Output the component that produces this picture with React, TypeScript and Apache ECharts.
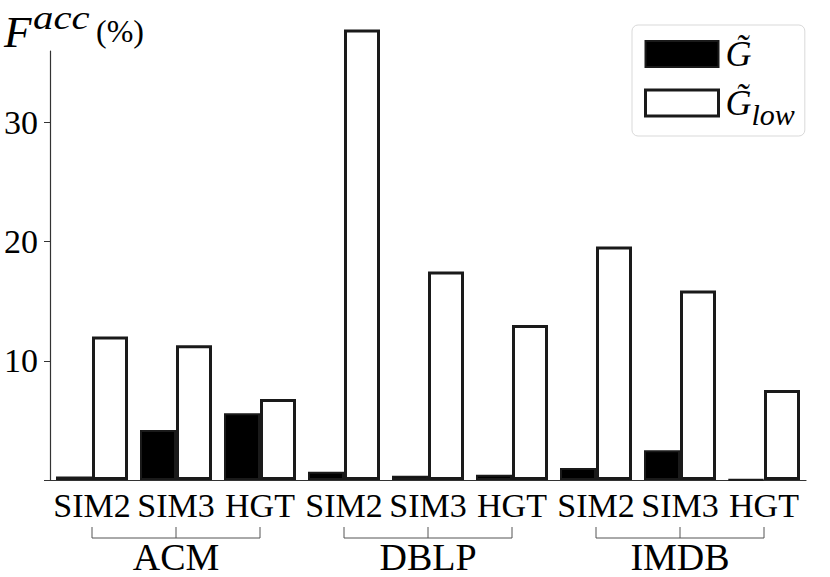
import React, { useEffect, useRef } from 'react';
import * as echarts from 'echarts';

const datasets = ['ACM', 'DBLP', 'IMDB'];
const methods = ['SIM2', 'SIM3', 'HGT'];
const seriesNames = ['G\u0303', 'G\u0303low'];
const gValues = [0.3, 4.2, 5.6, 0.7, 0.35, 0.45, 1.0, 2.5, 0.05];
const gLowValues = [12.05, 11.3, 6.8, 37.8, 17.5, 13.0, 19.6, 15.9, 7.55];
const yTicks = [10, 20, 30];
const yMax = 36;

const categories = datasets.flatMap((d) => methods.map((m) => `${d}-${m}`));
const SERIF = "'Liberation Serif', 'Times New Roman', serif";
const EDGE = '#1a1a1a';
const AXIS = '#333';

export default function App() {
  const ref = useRef<HTMLDivElement>(null);
  useEffect(() => {
    const chart = echarts.init(ref.current!, null, { renderer: 'svg' });
    const option: any = {
      animation: false,
      grid: { left: 50, right: 24, top: 51, bottom: 97, containLabel: false },
      xAxis: {
        type: 'category',
        data: categories,
        axisLine: { lineStyle: { color: AXIS, width: 1.2 } },
        axisTick: { alignWithLabel: true, length: 5, lineStyle: { color: AXIS } },
        axisLabel: {
          interval: 0,
          formatter: (v: string) => v.split('-')[1],
          fontFamily: SERIF,
          fontSize: 34,
          color: '#000',
          margin: 8,
        },
      },
      yAxis: {
        type: 'value',
        min: 0,
        max: yMax,
        splitLine: { show: false },
        axisLine: { show: true, lineStyle: { color: AXIS, width: 1.2 } },
        axisTick: { show: true, length: 6, customValues: [0, ...yTicks], lineStyle: { color: AXIS } },
        axisLabel: {
          customValues: yTicks,
          fontFamily: SERIF,
          fontSize: 34,
          color: '#000',
          margin: 12,
        },
      },
      legend: {
        orient: 'vertical',
        left: 632,
        top: 25,
        padding: [11, 10, 7, 12],
        itemWidth: 73,
        itemHeight: 26,
        itemGap: 13,
        backgroundColor: '#fff',
        borderColor: '#d9d9d9',
        borderWidth: 1,
        borderRadius: 6,
        icon: 'rect',
        data: [
          { name: seriesNames[0], itemStyle: { color: '#000', borderColor: EDGE, borderWidth: 2 } },
          { name: seriesNames[1], itemStyle: { color: '#fff', borderColor: EDGE, borderWidth: 3 } },
        ],
        formatter: (n: string) => (n === seriesNames[0] ? '{g|G\u0303}' : '{g|G\u0303}{s|low}'),
        textStyle: {
          lineHeight: 26,
          height: 26,
          padding: [0, 0, 0, 2],
          rich: {
            g: { fontFamily: SERIF, fontStyle: 'italic', fontSize: 36, lineHeight: 26, height: 26, color: '#000' },
            s: { fontFamily: SERIF, fontStyle: 'italic', fontSize: 30, lineHeight: 4, height: 4, verticalAlign: 'bottom', color: '#000' },
          },
        },
      },
      series: [
        {
          name: seriesNames[0],
          type: 'bar',
          data: gValues,
          barWidth: 36,
          barGap: '0%',
          itemStyle: { color: '#000', borderColor: EDGE, borderWidth: 2 },
        },
        {
          name: seriesNames[1],
          type: 'bar',
          data: gLowValues,
          barWidth: 36,
          clip: false,
          itemStyle: { color: '#fff', borderColor: EDGE, borderWidth: 3 },
        },
      ],
    };
    chart.setOption(option);

    const base = chart.convertToPixel({ yAxisIndex: 0 }, 0) as number;
    const yLine = base + 58;
    const yTop = base + 47;
    const yLabel = base + 77;
    const groups: any[] = [];
    datasets.forEach((d) => {
      const xs = methods.map((m) => chart.convertToPixel({ xAxisIndex: 0 }, `${d}-${m}`) as number);
      groups.push({
        type: 'polyline',
        shape: { points: [[xs[0], yTop], [xs[0], yLine], [xs[2], yLine], [xs[2], yTop]] },
        style: { stroke: '#555', fill: null, lineWidth: 1 },
      });
      groups.push({
        type: 'line',
        shape: { x1: xs[1], y1: yTop, x2: xs[1], y2: yLine },
        style: { stroke: '#555', lineWidth: 1 },
      });
      groups.push({
        type: 'text',
        x: xs[1],
        y: yLabel,
        style: { text: d, fontFamily: SERIF, fontSize: 38, fill: '#000', align: 'center', verticalAlign: 'middle' },
      });
    });
    const title = [
      { type: 'text', x: 4, y: 32, style: { text: 'F', fontFamily: SERIF, fontStyle: 'italic', fontSize: 45, fill: '#000', verticalAlign: 'middle' } },
      { type: 'text', x: 33, y: 1, scaleX: 1.2, style: { text: 'acc', fontFamily: SERIF, fontStyle: 'italic', fontSize: 34, fill: '#000', verticalAlign: 'top' } },
      { type: 'text', x: 96, y: 31, style: { text: '(%)', fontFamily: SERIF, fontSize: 32, fill: '#000', verticalAlign: 'middle' } },
    ];
    chart.setOption({ graphic: [...groups, ...title] });

    return () => chart.dispose();
  }, []);
  return <div ref={ref} style={{ position: 'absolute', left: 0, top: 0, width: 830, height: 577, background: '#fff' }} />;
}
